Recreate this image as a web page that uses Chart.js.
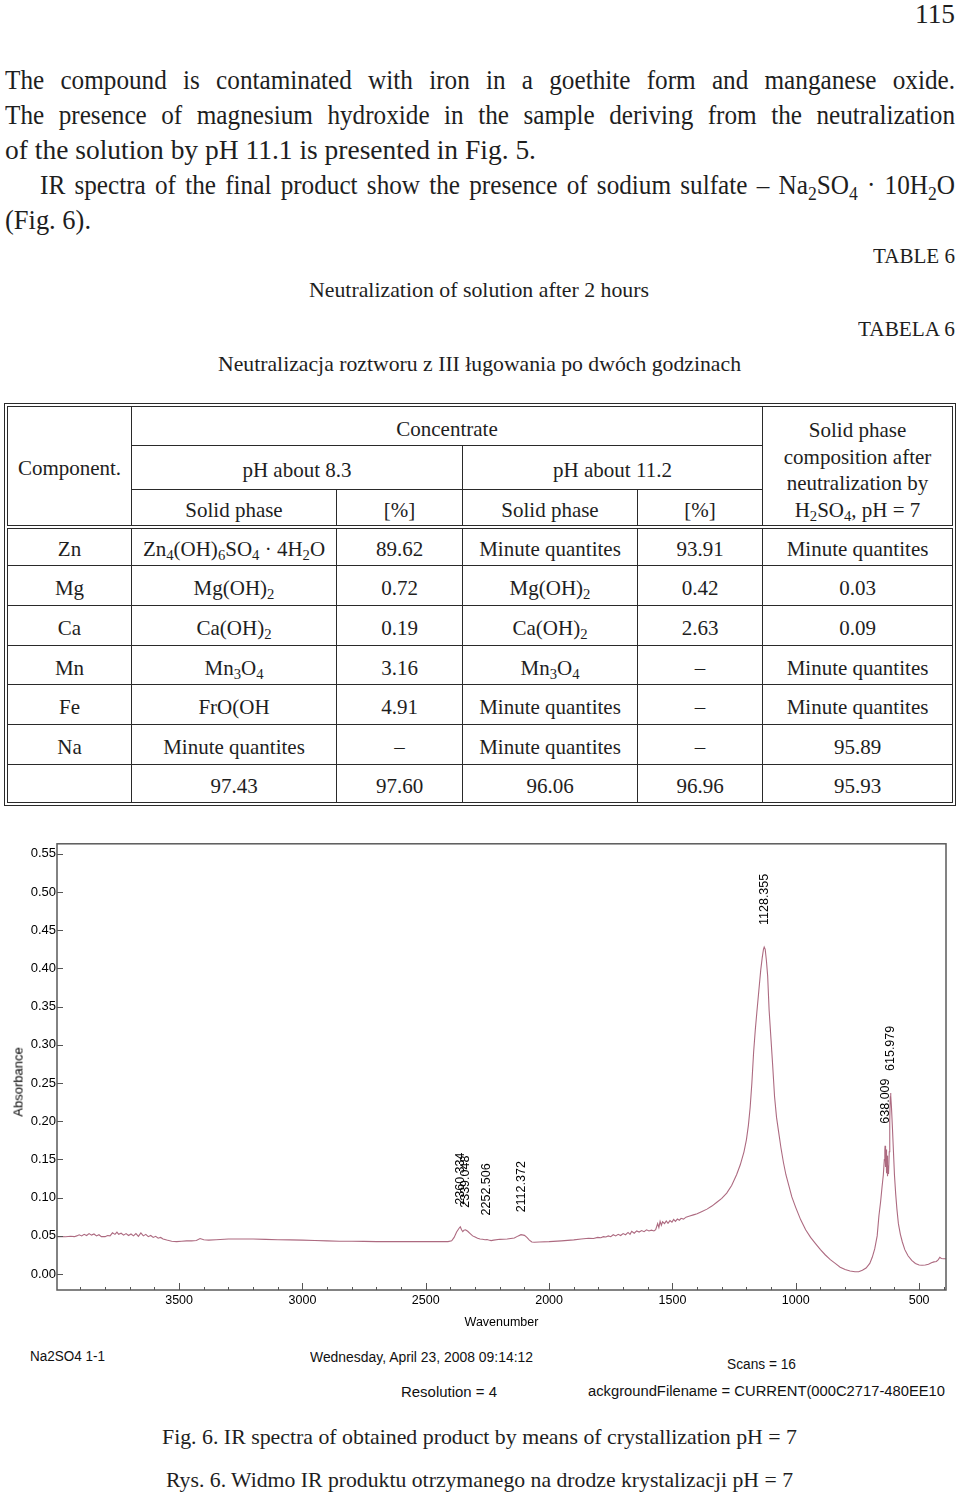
<!DOCTYPE html>
<html>
<head>
<meta charset="utf-8">
<script src="https://cdn.jsdelivr.net/npm/chart.js@4.4.1/dist/chart.umd.min.js"></script>
<style>
html,body{margin:0;padding:0;background:#fff;}
body{width:960px;height:1494px;position:relative;overflow:hidden;font-family:"Liberation Serif","Times New Roman",serif;color:#1e1e1e;}
.t{position:absolute;white-space:nowrap;transform-origin:0 50%;display:inline-block;}
.p{font-size:28px;line-height:32px;}
.s{font-size:21px;line-height:25px;}
.c{font-family:"Liberation Sans Narrow","Liberation Sans",Arial,sans-serif;font-size:14px;line-height:16px;color:#111;}
sub{font-size:0.7em;vertical-align:-0.3em;line-height:0;}
#tblwrap{position:absolute;left:4px;top:403px;border:1px solid #2a2a2a;padding:2px;}
table{border-collapse:collapse;table-layout:fixed;width:945px;font-size:21px;}
td{border:1px solid #2a2a2a;text-align:center;vertical-align:middle;padding:5px 0 0 0;line-height:24px;white-space:nowrap;overflow:hidden;}
tr.hb td, td.hb{border-bottom:4px double #2a2a2a;}
td.last{line-height:26.7px;padding-top:9px;}
#chartBox{position:absolute;left:0;top:835px;width:960px;height:500px;}
#absTitle{position:absolute;left:18px;top:1082px;transform:translate(-50%,-50%) rotate(-90deg);font-family:"Liberation Sans",Arial,sans-serif;font-size:13px;color:#000;white-space:nowrap;}
</style>
</head>
<body>

<div class="t p" style="left:915px;top:-2px" data-w="40">115</div>

<div class="t p" style="left:5px;top:64px" data-w="950" data-mode="justify">The compound is contaminated with iron in a goethite form and manganese oxide.</div>
<div class="t p" style="left:5px;top:99px" data-w="950" data-mode="justify">The presence of magnesium hydroxide in the sample deriving from the neutralization</div>
<div class="t p" style="left:5px;top:134px" data-w="531">of the solution by pH 11.1 is presented in Fig. 5.</div>
<div class="t p" style="left:40px;top:169px" data-w="915" data-mode="justify">IR spectra of the final product show the presence of sodium sulfate – Na<sub>2</sub>SO<sub>4</sub> · 10H<sub>2</sub>O</div>
<div class="t p" style="left:5px;top:204px" data-w="86">(Fig. 6).</div>

<div class="t s" style="left:873px;top:244px" data-w="82">TABLE 6</div>
<div class="t s" style="left:309px;top:278px" data-w="340">Neutralization of solution after 2 hours</div>
<div class="t s" style="left:858px;top:317px" data-w="97">TABELA 6</div>
<div class="t s" style="left:218px;top:352px" data-w="523">Neutralizacja roztworu z III ługowania po dwóch godzinach</div>

<div id="tblwrap">
<table>
<colgroup><col style="width:124px"><col style="width:205px"><col style="width:126px"><col style="width:175px"><col style="width:125px"><col style="width:190px"></colgroup>
<tr style="height:39px"><td rowspan="3" class="hb">Component.</td><td colspan="4">Concentrate</td><td rowspan="3" class="hb last">Solid phase<br>composition after<br>neutralization by<br>H<sub>2</sub>SO<sub>4</sub>, pH = 7</td></tr>
<tr style="height:44px"><td colspan="2">pH about 8.3</td><td colspan="2">pH about 11.2</td></tr>
<tr style="height:37px" class="hb"><td>Solid phase</td><td>[%]</td><td>Solid phase</td><td>[%]</td></tr>
<tr style="height:39px"><td>Zn</td><td>Zn<sub>4</sub>(OH)<sub>6</sub>SO<sub>4</sub> · 4H<sub>2</sub>O</td><td>89.62</td><td>Minute quantites</td><td>93.91</td><td>Minute quantites</td></tr>
<tr style="height:40px"><td>Mg</td><td>Mg(OH)<sub>2</sub></td><td>0.72</td><td>Mg(OH)<sub>2</sub></td><td>0.42</td><td>0.03</td></tr>
<tr style="height:40px"><td>Ca</td><td>Ca(OH)<sub>2</sub></td><td>0.19</td><td>Ca(OH)<sub>2</sub></td><td>2.63</td><td>0.09</td></tr>
<tr style="height:39px"><td>Mn</td><td>Mn<sub>3</sub>O<sub>4</sub></td><td>3.16</td><td>Mn<sub>3</sub>O<sub>4</sub></td><td>–</td><td>Minute quantites</td></tr>
<tr style="height:40px"><td>Fe</td><td>FrO(OH</td><td>4.91</td><td>Minute quantites</td><td>–</td><td>Minute quantites</td></tr>
<tr style="height:40px"><td>Na</td><td>Minute quantites</td><td>–</td><td>Minute quantites</td><td>–</td><td>95.89</td></tr>
<tr style="height:38px"><td></td><td>97.43</td><td>97.60</td><td>96.06</td><td>96.96</td><td>95.93</td></tr>
</table>
</div>

<div id="chartBox"><canvas id="spec" width="960" height="500"></canvas></div>
<div id="absTitle">Absorbance</div>

<div class="t c" style="left:30px;top:1348px" data-w="75">Na2SO4 1-1</div>
<div class="t c" style="left:310px;top:1349px" data-w="223">Wednesday, April 23, 2008 09:14:12</div>
<div class="t c" style="left:727px;top:1356px" data-w="69">Scans = 16</div>
<div class="t c" style="left:401px;top:1384px" data-w="96">Resolution = 4</div>
<div class="t c" style="left:588px;top:1383px" data-w="357">ackgroundFilename = CURRENT(000C2717-480EE10</div>

<div class="t s" style="left:162px;top:1425px" data-w="635">Fig. 6. IR spectra of obtained product by means of crystallization pH = 7</div>
<div class="t s" style="left:166px;top:1468px" data-w="627">Rys. 6. Widmo IR produktu otrzymanego na drodze krystalizacji pH = 7</div>

<script>
// ---- data ----
const wavenumbers = [
  4000, 3980, 3960, 3940, 3925, 3915, 3905, 3895, 3885, 3875,
  3865, 3855, 3845, 3835, 3825, 3815, 3800, 3790, 3780, 3770,
  3760, 3752, 3745, 3735, 3725, 3715, 3705, 3695, 3685, 3675,
  3665, 3655, 3645, 3635, 3625, 3615, 3605, 3595, 3585, 3575,
  3565, 3550, 3530, 3510, 3490, 3470, 3450, 3430, 3415, 3400,
  3380, 3350, 3300, 3250, 3200, 3150, 3100, 3050, 3000, 2950,
  2900, 2850, 2800, 2750, 2700, 2650, 2600, 2550, 2500, 2450,
  2410, 2395, 2385, 2375, 2365, 2360, 2355, 2350, 2345, 2339,
  2330, 2320, 2310, 2300, 2290, 2280, 2270, 2260, 2252, 2245,
  2235, 2225, 2200, 2170, 2141, 2125, 2114, 2100, 2090, 2080,
  2070, 2060, 2040, 2000, 1950, 1900, 1870, 1840, 1820, 1803,
  1790, 1780, 1770, 1760, 1750, 1740, 1730, 1720, 1710, 1700,
  1690, 1680, 1672, 1665, 1655, 1645, 1635, 1625, 1615, 1605,
  1595, 1585, 1575, 1568, 1560, 1555, 1550, 1545, 1540, 1532,
  1525, 1518, 1510, 1502, 1495, 1488, 1480, 1472, 1465, 1455,
  1445, 1430, 1415, 1400, 1380, 1360, 1340, 1320, 1300, 1280,
  1260, 1240, 1225, 1210, 1200, 1192, 1185, 1178, 1171, 1164,
  1158, 1150, 1142, 1136, 1131, 1128, 1124, 1119, 1114, 1108,
  1100, 1094, 1086, 1078, 1070, 1060, 1050, 1040, 1030, 1016,
  1000, 980, 960, 940, 920, 900, 880, 860, 840, 820,
  800, 780, 760, 745, 730, 715, 700, 690, 680, 670,
  663, 656, 650, 645, 641, 639, 638, 636, 634, 632,
  630, 628, 626, 624, 621, 619, 617, 616, 614, 612,
  608, 604, 600, 595, 590, 584, 576, 568, 558, 545,
  530, 515, 500, 488, 475, 462, 450, 440, 430, 422,
  416, 410, 400, 391
];
const absorbance = [
  0.049, 0.049, 0.0488, 0.0495, 0.049, 0.050, 0.0515, 0.050, 0.052, 0.0505,
  0.053, 0.051, 0.0525, 0.050, 0.0515, 0.049, 0.049, 0.0505, 0.050, 0.054,
  0.052, 0.055, 0.052, 0.0535, 0.051, 0.053, 0.0505, 0.0525, 0.050, 0.053,
  0.0495, 0.054, 0.050, 0.052, 0.049, 0.0505, 0.048, 0.0495, 0.047, 0.048,
  0.046, 0.0445, 0.043, 0.0425, 0.043, 0.0435, 0.0435, 0.044, 0.0465, 0.045,
  0.0445, 0.045, 0.046, 0.046, 0.046, 0.0455, 0.045, 0.0448, 0.0445, 0.044,
  0.0435, 0.043, 0.043, 0.0428, 0.0425, 0.0425, 0.0425, 0.0425, 0.0425, 0.0425,
  0.0425, 0.0435, 0.048, 0.055, 0.060, 0.062, 0.058, 0.0555, 0.0575, 0.058,
  0.056, 0.053, 0.050, 0.0485, 0.047, 0.046, 0.0455, 0.045, 0.0452, 0.0445,
  0.0438, 0.0445, 0.0455, 0.046, 0.0473, 0.050, 0.0516, 0.0507, 0.048, 0.0445,
  0.042, 0.0416, 0.042, 0.0425, 0.0435, 0.0448, 0.046, 0.047, 0.0465, 0.048,
  0.0475, 0.049, 0.0485, 0.050, 0.049, 0.0515, 0.050, 0.052, 0.0505, 0.053,
  0.0515, 0.0545, 0.052, 0.056, 0.0535, 0.0565, 0.055, 0.057, 0.0555, 0.058,
  0.0565, 0.0575, 0.0565, 0.058, 0.066, 0.061, 0.069, 0.064, 0.0685, 0.066,
  0.0695, 0.0665, 0.070, 0.068, 0.0715, 0.069, 0.072, 0.0705, 0.073, 0.072,
  0.0745, 0.076, 0.0775, 0.079, 0.082, 0.085, 0.089, 0.094, 0.099, 0.106,
  0.116, 0.130, 0.143, 0.160, 0.176, 0.195, 0.218, 0.250, 0.290, 0.320,
  0.342, 0.370, 0.398, 0.414, 0.425, 0.428, 0.425, 0.410, 0.390, 0.345,
  0.305, 0.275, 0.232, 0.205, 0.187, 0.165, 0.146, 0.130, 0.118, 0.101,
  0.087, 0.071, 0.058, 0.048, 0.040, 0.032, 0.025, 0.019, 0.014, 0.009,
  0.006, 0.004, 0.003, 0.003, 0.005, 0.008, 0.014, 0.022, 0.033, 0.050,
  0.076, 0.095, 0.115, 0.130, 0.150, 0.162, 0.168, 0.140, 0.163, 0.132,
  0.155, 0.128, 0.142, 0.131, 0.160, 0.200, 0.232, 0.237, 0.233, 0.218,
  0.190, 0.160, 0.130, 0.105, 0.085, 0.066, 0.052, 0.042, 0.032, 0.024,
  0.018, 0.014, 0.012, 0.0115, 0.012, 0.013, 0.015, 0.016, 0.0165, 0.019,
  0.022, 0.0205, 0.020, 0.020
];
const xLabelTicks = [3500, 3000, 2500, 2000, 1500, 1000, 500];
const yTickValues = [0.00, 0.05, 0.10, 0.15, 0.20, 0.25, 0.30, 0.35, 0.40, 0.45, 0.50, 0.55];
const peakWavenumbers = [2360.334, 2339.048, 2252.506, 2112.372, 1128.355, 638.009, 615.979];
const peakAbsorbance  = [0.062, 0.058, 0.048, 0.052, 0.428, 0.168, 0.237];

const xMinorTicks = [];
for (let v = 3900; v >= 400; v -= 100) xMinorTicks.push(v);

const SANS = '"Liberation Sans", Arial, sans-serif';

const framePlugin = {
  id: 'frameTicks',
  afterDraw(chart) {
    const {ctx, chartArea: a, scales: {x, y}} = chart;
    ctx.save();
    ctx.strokeStyle = '#5a5a5a';
    ctx.lineWidth = 1.5;
    ctx.strokeRect(a.left, a.top, a.right - a.left, a.bottom - a.top);
    ctx.lineWidth = 1;
    ctx.strokeStyle = '#555';
    x.ticks.forEach(t => {
      const px = Math.round(x.getPixelForValue(t.value)) + 0.5;
      const len = xLabelTicks.includes(t.value) ? 7 : 3;
      ctx.beginPath(); ctx.moveTo(px, a.bottom); ctx.lineTo(px, a.bottom - len); ctx.stroke();
    });
    y.ticks.forEach(t => {
      const py = Math.round(y.getPixelForValue(t.value)) + 0.5;
      ctx.beginPath(); ctx.moveTo(a.left, py); ctx.lineTo(a.left + 6, py); ctx.stroke();
    });
    ctx.restore();
  }
};

const peakLabelPlugin = {
  id: 'peakLabels',
  afterDatasetsDraw(chart) {
    const {ctx, scales: {x, y}} = chart;
    ctx.save();
    ctx.fillStyle = '#000';
    ctx.font = '12.5px ' + SANS;
    ctx.textAlign = 'left';
    ctx.textBaseline = 'middle';
    peakWavenumbers.forEach((w, i) => {
      const px = x.getPixelForValue(w);
      const py = y.getPixelForValue(peakAbsorbance[i]) - 22;
      ctx.save();
      ctx.translate(px, py);
      ctx.rotate(-Math.PI / 2);
      ctx.fillText(w.toFixed(3), 0, 0);
      ctx.restore();
    });
    ctx.restore();
  }
};

function buildChart() {
  new Chart(document.getElementById('spec'), {
    type: 'line',
    data: {
      datasets: [{
        label: 'Na2SO4 1-1',
        data: wavenumbers.map((w, i) => ({x: w, y: absorbance[i]})),
        borderColor: '#ad6a80',
        borderWidth: 1.1,
        pointRadius: 0,
        tension: 0,
        fill: false
      }]
    },
    options: {
      responsive: false,
      animation: false,
      devicePixelRatio: 1,
      layout: {padding: {top: 6, right: 14, left: 0, bottom: 0}},
      plugins: {legend: {display: false}, tooltip: {enabled: false}},
      scales: {
        x: {
          type: 'linear', reverse: true, min: 391, max: 3995,
          afterBuildTicks: ax => { ax.ticks = xMinorTicks.map(v => ({value: v})); },
          afterFit: ax => { ax.height = 45; },
          grid: {display: false, drawTicks: false},
          border: {display: false},
          ticks: {
            autoSkip: false, maxRotation: 0, minRotation: 0, padding: 3, color: '#000',
            font: {family: SANS, size: 12.5},
            callback: v => xLabelTicks.includes(v) ? String(v) : ''
          },
          title: {display: true, text: 'Wavenumber', color: '#000', font: {family: SANS, size: 12.5}, padding: {top: 0, bottom: 5}}
        },
        y: {
          min: -0.0208, max: 0.563,
          afterBuildTicks: ax => { ax.ticks = yTickValues.map(v => ({value: v})); },
          afterFit: ax => { ax.width = 57; },
          grid: {display: false, drawTicks: false},
          border: {display: false},
          ticks: {padding: 1, color: '#000', font: {family: SANS, size: 13}, callback: v => v.toFixed(2)}
        }
      }
    },
    plugins: [framePlugin, peakLabelPlugin]
  });
}

// condensed look of the scanned serif text: compress glyphs, then justify with word spacing
const CONDENSE = 0.9;
function fitAll() {
  document.querySelectorAll('[data-w]').forEach(el => {
    const target = parseFloat(el.dataset.w);
    el.style.wordSpacing = '0px';
    el.style.transform = 'none';
    if (el.dataset.mode === 'justify') {
      el.style.transform = 'scaleX(' + CONDENSE + ')';
      const w = el.getBoundingClientRect().width;
      if (w < target) {
        const spaces = (el.textContent.match(/ /g) || []).length;
        if (spaces) el.style.wordSpacing = ((target - w) / spaces / CONDENSE) + 'px';
      } else {
        el.style.transform = 'scaleX(' + (CONDENSE * target / w) + ')';
      }
    } else {
      const w = el.getBoundingClientRect().width;
      if (w) el.style.transform = 'scaleX(' + (target / w) + ')';
    }
  });
}

const ready = (document.fonts && document.fonts.ready) ? document.fonts.ready : Promise.resolve();
ready.then(() => { fitAll(); buildChart(); });
</script>
</body>
</html>
